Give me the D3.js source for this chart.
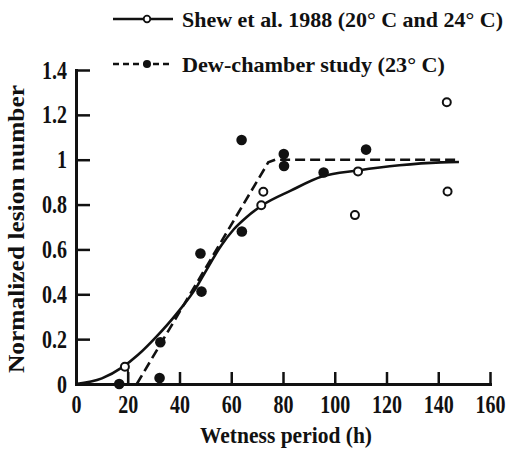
<!DOCTYPE html>
<html>
<head>
<meta charset="utf-8">
<script src="https://cdn.jsdelivr.net/npm/d3@7"></script>
<style>
  body { margin: 0; background: #fff; }
  text { font-family: "Liberation Serif", "Times New Roman", serif; font-weight: bold; fill: #111; }
</style>
</head>
<body>
<svg id="chart" width="515" height="452"></svg>
<script>
var xTicks = [0, 20, 40, 60, 80, 100, 120, 140, 160];
var yTicks = [0, 0.2, 0.4, 0.6, 0.8, 1, 1.2, 1.4];

// Shew et al. 1988 observations (open circles)
var shewObserved = [[18.9, 0.077], [72.4, 0.857], [71.6, 0.797], [109, 0.948],
                    [107.8, 0.753], [143.3, 1.256], [143.6, 0.858]];

// dew-chamber observations (filled circles)
var dewObserved = [[16.7, 0], [32.3, 0.027], [32.6, 0.186], [48.1, 0.582],
                   [48.5, 0.412], [64, 1.088], [64.1, 0.68], [80.3, 1.025],
                   [80.4, 0.972], [95.7, 0.943], [112.1, 1.045]];

// fitted curves
var shewFit = [[0, 0], [10, 0.025], [18, 0.075], [24, 0.13], [31, 0.21], [39, 0.315],
               [47, 0.44], [50, 0.5], [56, 0.615], [61, 0.69], [66, 0.745], [72, 0.797],
               [83, 0.862], [95, 0.925], [109, 0.952], [125, 0.975], [141, 0.988], [148, 0.99]];
var dewFit = [[23.5, 0], [74.3, 0.988], [77, 1.0], [148, 1.0]];

var dropLines = [[18.9, 0.077]];

var legendLabels = ["Shew et al. 1988 (20\u00b0 C and 24\u00b0 C)", "Dew-chamber study (23\u00b0 C)"];

var svg = d3.select("#chart");
var ink = "#111";
var serif = '"Liberation Serif", "Times New Roman", serif';

var x = d3.scaleLinear().domain([0, 160]).range([76, 490]);
var y = d3.scaleLinear().domain([0, 1.4]).range([384, 70]);

var squeeze = 0.8;

// axes
var xAxis = svg.append("g")
  .attr("transform", "translate(0," + y(0) + ")")
  .call(d3.axisBottom(x).tickValues(xTicks).tickSizeInner(-12).tickSizeOuter(0).tickPadding(11)
    .tickFormat(d3.format("d")));

var yAxis = svg.append("g")
  .attr("transform", "translate(" + x(0) + ",0)")
  .call(d3.axisLeft(y).tickValues(yTicks).tickSizeInner(-14).tickSizeOuter(0).tickPadding(9)
    .tickFormat(function(d) { return d === 0 || d === 1 ? String(d) : d3.format(".1f")(d); }));

[xAxis, yAxis].forEach(function(g) {
  g.attr("font-size", null).attr("font-family", null);
  g.select(".domain").attr("stroke", ink).attr("stroke-width", 3).attr("stroke-linecap", "square");
  g.selectAll(".tick line").attr("stroke", ink).attr("stroke-width", 2.5);
  g.selectAll(".tick text")
    .style("font-family", serif)
    .style("font-weight", "bold")
    .style("font-size", "25px")
    .attr("fill", ink);
});

xAxis.selectAll(".tick text").attr("transform", "scale(" + squeeze + ",1)");
yAxis.selectAll(".tick text")
  .attr("x", -9 / squeeze)
  .attr("transform", "scale(" + squeeze + ",1)");

// axis titles
svg.append("text")
  .attr("x", (x(0) + x(160)) / 2 + 3)
  .attr("y", 443)
  .attr("text-anchor", "middle")
  .attr("textLength", 172)
  .attr("lengthAdjust", "spacingAndGlyphs")
  .style("font-size", "23px")
  .text("Wetness period (h)");

svg.append("text")
  .attr("transform", "translate(24,229) rotate(-90)")
  .attr("text-anchor", "middle")
  .attr("textLength", 288)
  .attr("lengthAdjust", "spacingAndGlyphs")
  .style("font-size", "24px")
  .text("Normalized lesion number");

// curves
var line = d3.line()
  .x(function(d) { return x(d[0]); })
  .y(function(d) { return y(d[1]); });

svg.append("path")
  .datum(shewFit)
  .attr("d", line.curve(d3.curveMonotoneX))
  .attr("fill", "none")
  .attr("stroke", ink)
  .attr("stroke-width", 2.6);

svg.append("path")
  .datum(dewFit)
  .attr("d", line.curve(d3.curveLinear))
  .attr("fill", "none")
  .attr("stroke", ink)
  .attr("stroke-width", 2.6)
  .attr("stroke-dasharray", "10,5");

svg.selectAll(".drop")
  .data(dropLines)
  .enter().append("line")
  .attr("x1", function(d) { return x(d[0]) + 3; })
  .attr("x2", function(d) { return x(d[0]) + 3; })
  .attr("y1", function(d) { return y(d[1]) + 3; })
  .attr("y2", y(0))
  .attr("stroke", ink)
  .attr("stroke-width", 2);

// observations
svg.selectAll(".open")
  .data(shewObserved)
  .enter().append("circle")
  .attr("cx", function(d) { return x(d[0]); })
  .attr("cy", function(d) { return y(d[1]); })
  .attr("r", 4)
  .attr("fill", "#fff")
  .attr("stroke", ink)
  .attr("stroke-width", 2);

svg.selectAll(".filled")
  .data(dewObserved)
  .enter().append("circle")
  .attr("cx", function(d) { return x(d[0]); })
  .attr("cy", function(d) { return y(d[1]); })
  .attr("r", 5.3)
  .attr("fill", ink);

// legend
var legend = svg.append("g");
var rows = [{ y: 19, dash: null, open: true }, { y: 64, dash: "6,4", open: false }];

rows.forEach(function(r, i) {
  legend.append("line")
    .attr("x1", 113).attr("x2", 173)
    .attr("y1", r.y).attr("y2", r.y)
    .attr("stroke", ink)
    .attr("stroke-width", 2.4)
    .attr("stroke-dasharray", r.dash);

  legend.append("circle")
    .attr("cx", 147).attr("cy", r.y)
    .attr("r", r.open ? 3.3 : 4)
    .attr("fill", r.open ? "#fff" : ink)
    .attr("stroke", ink)
    .attr("stroke-width", r.open ? 1.8 : 0);

  legend.append("text")
    .attr("x", 182)
    .attr("y", r.y + 8)
    .attr("textLength", i === 0 ? 321 : 263)
    .attr("lengthAdjust", "spacingAndGlyphs")
    .style("font-size", "22px")
    .text(legendLabels[i]);
});
</script>
</body>
</html>
